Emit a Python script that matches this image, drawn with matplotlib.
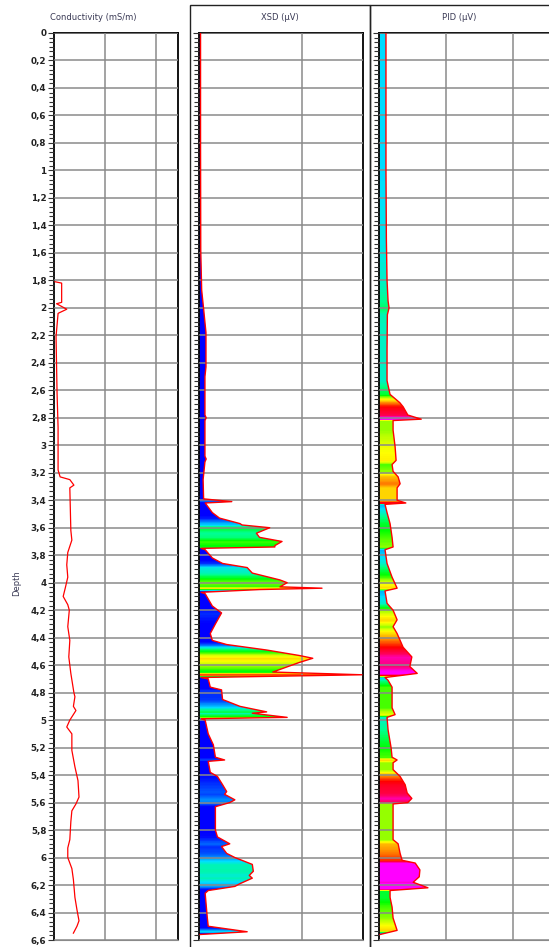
import matplotlib
matplotlib.use("Agg")
import matplotlib.pyplot as plt
import numpy as np
from matplotlib.colors import LinearSegmentedColormap, Normalize
from matplotlib.patches import Polygon, Rectangle
from matplotlib.ticker import FixedLocator, FuncFormatter, AutoMinorLocator

# conductivity log (mS/m)
cond_depth = [1.81, 1.82, 1.96, 1.97, 2.01, 2.04, 2.21, 2.62, 2.87, 3.18, 3.23, 3.25,
              3.29, 3.31, 3.62, 3.69, 3.78, 3.87, 3.96, 4.04, 4.10, 4.16, 4.20, 4.32,
              4.42, 4.54, 4.66, 4.80, 4.83, 4.90, 4.93, 5.00, 5.05, 5.10, 5.22, 5.34,
              5.44, 5.56, 5.61, 5.66, 5.74, 5.87, 5.93, 6.00, 6.08, 6.16, 6.29, 6.38,
              6.46, 6.50, 6.55]
cond_value = [0.2, 1.5, 1.5, 0.5, 2.5, 0.8, 0.4, 0.6, 0.8, 0.8, 1.2, 3.1,
              3.9, 3.1, 3.3, 3.5, 2.7, 2.5, 2.7, 2.2, 1.8, 2.7, 3.0, 2.7,
              3.1, 2.9, 3.3, 3.9, 4.1, 3.8, 4.3, 3.1, 2.5, 3.5, 3.5, 4.1,
              4.7, 4.9, 4.3, 3.5, 3.3, 3.1, 2.7, 2.7, 3.5, 3.8, 4.1, 4.5,
              4.9, 4.5, 3.8]

# XSD log (uV)
xsd_depth = [0.00, 0.80, 1.58, 1.87, 2.03, 2.18, 2.43, 2.50, 2.78, 2.80, 2.82, 3.08,
             3.10, 3.12, 3.25, 3.39, 3.41, 3.42, 3.49, 3.53, 3.57, 3.58, 3.60, 3.64,
             3.67, 3.70, 3.73, 3.74, 3.75, 3.76, 3.82, 3.86, 3.89, 3.93, 3.98, 4.00,
             4.03, 4.04, 4.05, 4.07, 4.08, 4.17, 4.22, 4.30, 4.37, 4.42, 4.45, 4.49,
             4.53, 4.55, 4.58, 4.65, 4.67, 4.69, 4.70, 4.76, 4.78, 4.85, 4.90, 4.94,
             4.95, 4.98, 4.99, 5.00, 5.10, 5.18, 5.27, 5.29, 5.30, 5.38, 5.41, 5.47,
             5.52, 5.54, 5.58, 5.60, 5.63, 5.73, 5.80, 5.85, 5.90, 5.92, 5.97, 6.00,
             6.05, 6.10, 6.13, 6.15, 6.19, 6.21, 6.24, 6.26, 6.43, 6.50, 6.54, 6.56]
xsd_value = [1.5, 1.5, 1.7, 2.6, 4.8, 6.8, 6.8, 5.8, 5.8, 7, 5.8, 5.8,
             7, 5.8, 4, 4.5, 32, 6, 13, 20, 40, 42, 69, 56,
             59, 81, 74, 74, 2, 6, 13, 23, 47, 52, 79, 86,
             79, 120, 59, 2, 6, 13, 22, 16, 11, 13, 27, 66,
             98, 111, 98, 72, 159, 2, 9, 11, 22, 23, 40, 66,
             52, 86, 2, 6, 9, 14, 16, 25, 9, 11, 18, 23,
             27, 25, 35, 30, 16, 16, 16, 18, 30, 22, 27, 35,
             52, 53, 49, 52, 40, 35, 9, 6, 8, 9, 47, 1]

# PID log (uV)
pid_depth = [0.00, 0.50, 1.00, 1.50, 1.80, 1.95, 2.00, 2.05, 2.30, 2.53, 2.63, 2.69,
             2.72, 2.78, 2.81, 2.82, 2.89, 3.01, 3.11, 3.14, 3.19, 3.23, 3.28, 3.31,
             3.40, 3.42, 3.43, 3.49, 3.57, 3.67, 3.74, 3.76, 3.86, 3.96, 4.04, 4.06,
             4.15, 4.20, 4.27, 4.32, 4.37, 4.47, 4.54, 4.61, 4.66, 4.69, 4.71, 4.76,
             4.91, 4.96, 4.98, 5.07, 5.20, 5.27, 5.29, 5.31, 5.36, 5.41, 5.47, 5.53,
             5.57, 5.60, 5.61, 5.87, 5.90, 5.97, 6.02, 6.04, 6.09, 6.14, 6.18, 6.22,
             6.24, 6.29, 6.36, 6.44, 6.53, 6.56]
pid_value = [1.04, 1.04, 1.04, 1.1, 1.2, 1.35, 1.5, 1.25, 1.2, 1.2, 1.65, 3.1,
             3.6, 4.3, 6.3, 2.1, 2.1, 2.4, 2.55, 1.95, 2.1, 2.85, 3.15, 2.7,
             2.7, 4.0, 0.9, 1.2, 1.65, 1.95, 2.1, 0.9, 1.2, 1.95, 2.7, 0.9,
             1.2, 2.1, 2.7, 2.1, 2.7, 3.6, 4.9, 4.6, 5.7, 0.9, 1.35, 1.95,
             1.95, 2.4, 1.2, 1.35, 1.8, 1.95, 2.7, 2.1, 2.1, 3.15, 3.9, 4.2,
             4.9, 4.3, 2.1, 2.1, 2.85, 3.15, 3.45, 5.4, 6.1, 6.0, 5.1, 7.3,
             1.65, 1.65, 1.95, 2.1, 2.7, 0.15]

depth_ticks = np.arange(0, 6.61, 0.2)
W, H = 549, 947
TXT = "#3a3a55"

# intensity palette shared by the two detector logs (positions in PID pixel units)
stops = [(0, "#0000ff"), (2.6, "#0000ff"), (7, "#00e0ff"), (9, "#00ff90"),
         (12, "#00ff00"), (14.5, "#b0ff00"), (16.5, "#ffff00"), (20, "#ffa000"),
         (24, "#ff0000"), (30, "#ff0060"), (36, "#ff00ff")]
cmap = LinearSegmentedColormap.from_list("log", [(p / 36, c) for p, c in stops])


def px_axes(fig, x0, x1, y0=33, y1=940):
    return fig.add_axes([x0 / W, 1 - y1 / H, (x1 - x0) / W, (y1 - y0) / H])


def style(ax, xgrid, xmax, labels=False):
    ax.set_ylim(6.6, 0)
    ax.set_xlim(0, xmax)
    ax.yaxis.set_major_locator(FixedLocator(depth_ticks))
    ax.yaxis.set_minor_locator(AutoMinorLocator(6))
    ax.xaxis.set_major_locator(FixedLocator(xgrid))
    ax.tick_params(axis="x", length=0, labelbottom=False)
    ax.tick_params(axis="y", which="both", direction="out", color="#333333",
                   width=0.8, labelleft=labels, labelsize=6.3, labelcolor="#222222", pad=1)
    ax.tick_params(axis="y", which="major", length=4.5)
    ax.tick_params(axis="y", which="minor", length=3.5)
    ax.set_axisbelow(False)
    ax.grid(True, which="major", color="#8a8a8a", lw=1.1, zorder=2.5)
    for s in ("left", "right", "top"):
        ax.spines[s].set_linewidth(1.3)
        ax.spines[s].set_color("black")
    ax.spines["bottom"].set_color("#8a8a8a")


def filled_log(ax, depth, value, norm, xmax):
    d = np.asarray(depth, float)
    v = np.asarray(value, float)
    grid = np.linspace(d[0], d[-1], 2400)
    rows = cmap(norm(np.interp(grid, d, v)))[:, None, :]
    im = ax.imshow(rows, extent=[0, xmax, d[-1], d[0]], aspect="auto",
                   interpolation="nearest", origin="upper", zorder=2)
    verts = [(0, d[0])] + list(zip(v, d)) + [(0, d[-1])]
    patch = Polygon(verts, closed=True, facecolor="none", edgecolor="none",
                    transform=ax.transData)
    im.set_clip_path(patch)
    ax.plot(v, d, color="red", lw=1.0, zorder=3)
    ax.set_xlim(0, xmax)
    ax.set_ylim(6.6, 0)


fig = plt.figure(figsize=(W / 100, H / 100), dpi=100)
fig.patch.set_facecolor("white")

# panel frames around detector logs
for x0, x1 in ((190, 370), (370, 575)):
    fig.add_artist(Rectangle((x0 / W, -0.01), (x1 - x0) / W, 1.01 - 5 / H,
                             transform=fig.transFigure, fill=False,
                             edgecolor="#222222", lw=1.0))

ax_c = px_axes(fig, 54, 178)
style(ax_c, [10, 20], 24.3, labels=True)
ax_c.yaxis.set_major_formatter(FuncFormatter(lambda y, _: ("%g" % round(y, 2)).replace(".", ",")))
for lab in ax_c.get_yticklabels():
    lab.set_fontweight("bold")
ax_c.plot(cond_value, cond_depth, color="red", lw=0.9, zorder=3)

ax_x = px_axes(fig, 199, 363)
style(ax_x, [100], 160)
filled_log(ax_x, xsd_depth, xsd_value, Normalize(0, 36 * 6.4 * 160 / 164), 160)

ax_p = px_axes(fig, 379, 560)
style(ax_p, [10, 20], 27)
filled_log(ax_p, pid_depth, pid_value, Normalize(0, 36 / 6.7), 27)

fig.text(93 / W, 1 - 17 / H, "Conductivity (mS/m)", ha="center", va="center",
         fontsize=6, color=TXT)
fig.text(280 / W, 1 - 17 / H, "XSD (µV)", ha="center", va="center", fontsize=6, color=TXT)
fig.text(459 / W, 1 - 17 / H, "PID (µV)", ha="center", va="center", fontsize=6, color=TXT)
fig.text(17 / W, 1 - 583 / H, "Depth", rotation=90, ha="center", va="center",
         fontsize=6, color=TXT)

fig.savefig("out.png", dpi=100)
